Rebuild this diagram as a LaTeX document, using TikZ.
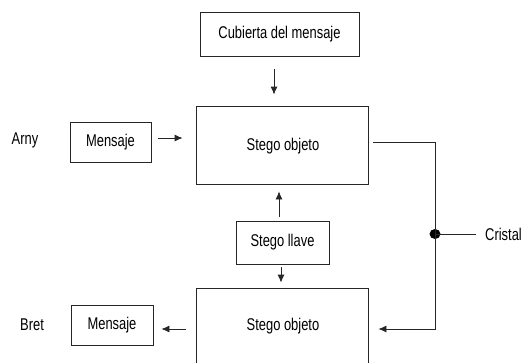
\documentclass[tikz,border=0pt]{standalone}
\usepackage{fontspec}
\setmainfont{Liberation Sans}
\usepackage{graphicx}
\usetikzlibrary{arrows.meta,shapes.geometric}
% condensed label text
\newcommand{\lbltxt}[1]{\scalebox{0.76}[1]{\fontsize{17}{20}\selectfont #1}}
\tikzset{
  box/.style={draw=black!85, line width=0.8pt, inner sep=0pt},
  link/.style={draw=black!85, line width=0.8pt},
  arr/.style={link, -{Latex[length=8pt,width=7pt]}},
  tag/.style={inner sep=0pt}
}
\begin{document}
\begin{tikzpicture}[x=1pt,y=-1pt]
  \useasboundingbox (0,0) rectangle (530,362);
  \clip (0,0) rectangle (530,362);
  % boxes
  \node[box, minimum width=159pt, minimum height=44pt] (cub) at (279.5,34) {\lbltxt{Cubierta del mensaje}};
  \node[box, minimum width=172pt, minimum height=78pt] (s1) at (282,145) {};
  \node at (283,146) {\lbltxt{Stego objeto}};
  \node[box, minimum width=81pt, minimum height=40pt] (m1) at (110.5,142) {\lbltxt{Mensaje}};
  \node[box, minimum width=93pt, minimum height=43pt] (key) at (282.5,242.5) {\lbltxt{Stego llave}};
  \node[box, minimum width=172pt, minimum height=78pt] (s2) at (282,327) {};
  \node at (283,326) {\lbltxt{Stego objeto}};
  \node[box, minimum width=82pt, minimum height=40pt] (m2) at (112,325) {\lbltxt{Mensaje}};
  % side labels
  \node[tag] (amy) at (25,140) {\lbltxt{Arny}};
  \node[tag] (bret) at (32,325) {\lbltxt{Bret}};
  \node[tag, anchor=west] (cris) at (485,234) {\lbltxt{Cristal}};
  % channel junction
  \node[fill=black, ellipse, minimum width=11pt, minimum height=10pt, inner sep=0pt] (dot) at (435,234) {};
  % arrows into the upper stego object
  \draw[arr, shorten <=13pt, shorten >=11pt] ([xshift=-5.5pt]cub.south) -- ([xshift=-5.5pt]cub.south |- s1.north);
  \draw[arr, shorten <=7pt, shorten >=13pt] ([yshift=4pt]m1.east) -- ([yshift=4pt]m1.east -| s1.west);
  \draw[arr, shorten <=4pt, shorten >=7pt] ([xshift=-3.5pt]key.north) -- ([xshift=-3.5pt]key.north |- s1.south);
  % arrows out of the key to the lower stego object
  \draw[arr, shorten <=3pt, shorten >=5pt] ([xshift=-1.5pt]key.south) -- ([xshift=-1.5pt]key.south |- s2.north);
  % transmission channel
  \draw[link, shorten <=5pt] ([yshift=3pt]s1.east) -| (dot.center);
  \draw[arr, shorten >=10pt] (dot.center) |- ([yshift=-2pt]s2.east);
  \draw[link] (dot.center) -- ([xshift=-9pt]cris.west);
  % output message
  \draw[arr, shorten <=10pt, shorten >=8pt] ([yshift=-2pt]s2.west) -- ([yshift=-2pt]s2.west -| m2.east);
\end{tikzpicture}
\end{document}
